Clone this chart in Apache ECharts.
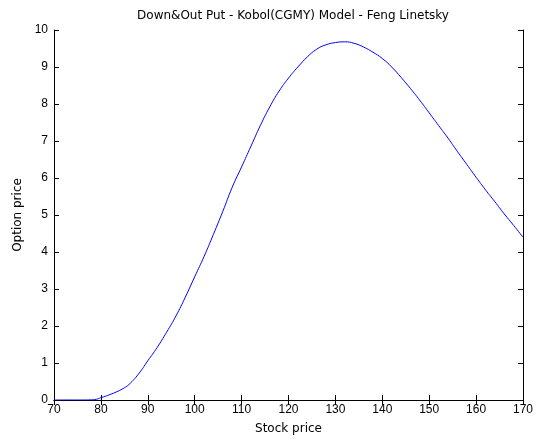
<!DOCTYPE html>
<html>
<head>
<meta charset="utf-8">
<script src="https://cdn.jsdelivr.net/npm/echarts@6/dist/echarts.min.js"></script>
<style>
html,body{margin:0;padding:0;background:#fff;}
#chart{width:536px;height:441px;}
</style>
</head>
<body>
<div id="chart"></div>
<script>
const titleText = "Down&Out Put - Kobol(CGMY) Model - Feng Linetsky";
const xAxisName = "Stock price";
const yAxisName = "Option price";
const stockPrice = [70,72,74,76,78,79,80,82,84,85,86,88,90,92,94,96,98,100,102,104,106,108,110,112,114,116,118,120,122,124,126,128,130,132,134,136,138,140,142,144,146,148,150,152,154,156,158,160,162,164,166,168,170];
const optionPrice = [0,0,0,0,0.005,0.02,0.06,0.15,0.26,0.33,0.42,0.70,1.06,1.42,1.83,2.27,2.78,3.33,3.88,4.48,5.10,5.75,6.30,6.86,7.42,7.92,8.35,8.70,9.00,9.27,9.48,9.60,9.66,9.68,9.64,9.54,9.40,9.23,9.00,8.72,8.42,8.10,7.76,7.42,7.08,6.72,6.37,6.02,5.68,5.36,5.03,4.72,4.40];

const font = "'Liberation Sans', Arial, sans-serif";
const textFont = "'DejaVu Sans', sans-serif";
const chart = echarts.init(document.getElementById('chart'), null, {renderer:'canvas'});
const baseAxis = {
  axisLine:{show:true, lineStyle:{color:'#000', width:1}},
  axisTick:{show:true, inside:true, length:5, lineStyle:{color:'#000'}},
  splitLine:{show:false},
  axisLabel:{color:'#000', fontFamily:font, fontSize:12}
};
chart.setOption({
  backgroundColor:'#fff',
  animation:false,
  title:{text:titleText, left:288, top:5, textAlign:'center',
    textStyle:{fontFamily:textFont, fontSize:12, fontWeight:'normal', color:'#000'}},
  grid:{left:54, right:13, top:30, bottom:41, show:false},
  xAxis:[
    Object.assign({}, baseAxis, {type:'value', min:70, max:170, interval:10, position:'bottom',
      name:xAxisName, nameLocation:'middle', nameGap:23,
      nameTextStyle:{fontFamily:textFont, fontSize:12, color:'#000'},
      axisLabel:Object.assign({}, baseAxis.axisLabel, {margin:4})}),
    Object.assign({}, baseAxis, {type:'value', min:70, max:170, interval:10, position:'top',
      axisLabel:{show:false}})
  ],
  yAxis:[
    Object.assign({}, baseAxis, {type:'value', min:0, max:10, interval:1, position:'left',
      name:yAxisName, nameLocation:'middle', nameGap:30, nameRotate:90,
      nameTextStyle:{fontFamily:textFont, fontSize:12, color:'#000'},
      axisLabel:Object.assign({}, baseAxis.axisLabel, {margin:6})}),
    Object.assign({}, baseAxis, {type:'value', min:0, max:10, interval:1, position:'right',
      axisLabel:{show:false}})
  ],
  series:[{
    type:'line', xAxisIndex:0, yAxisIndex:0,
    data: stockPrice.map((x,i)=>[x, optionPrice[i]]),
    showSymbol:false, smooth:true,
    lineStyle:{color:'#0000ff', width:1},
    itemStyle:{color:'#0000ff'}
  }]
});
</script>
</body>
</html>
